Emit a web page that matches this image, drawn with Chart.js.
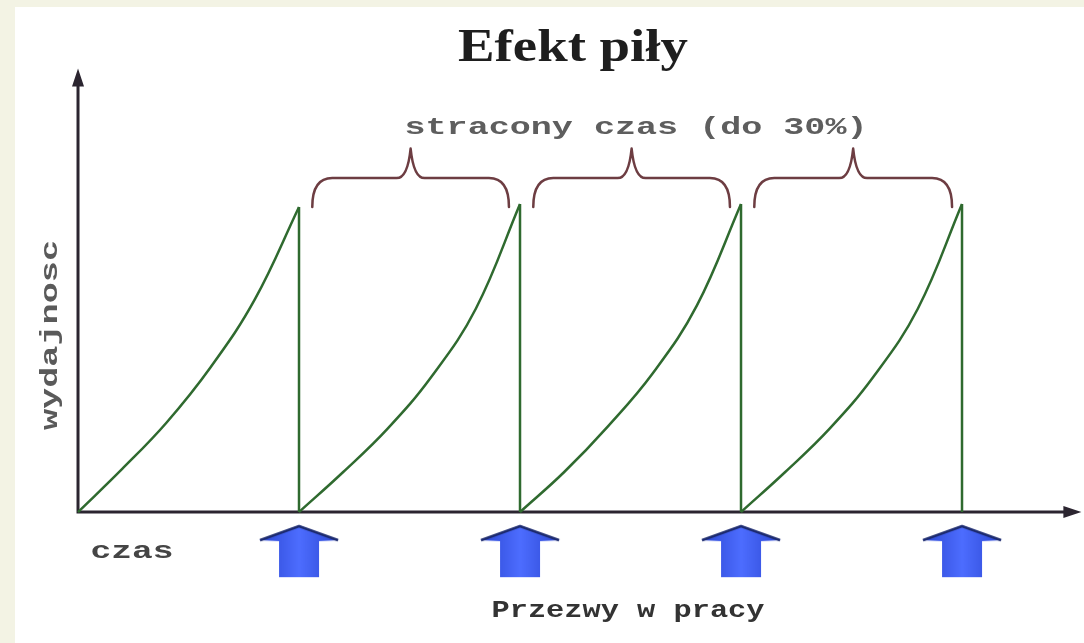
<!DOCTYPE html>
<html lang="pl">
<head>
<meta charset="utf-8">
<title>Efekt piły</title>
<script src="https://cdn.jsdelivr.net/npm/chart.js@4/dist/chart.umd.min.js"></script>
<style>
  html, body { margin: 0; padding: 0; background: #ffffff; }
  #wrap { width: 1084px; height: 643px; }
</style>
</head>
<body>
<div id="wrap"><canvas id="wykres" width="1084" height="643"></canvas></div>
<script>
// Czas (w jednostkach umownych) rozpoczęcia kolejnych bloków pracy
const poczatkiBlokow = [0, 10, 20, 30];
// Chwile w obrębie bloku, dla których odczytano wydajność
const chwileWBloku = [0, 2, 4, 6, 8, 10];
// Wydajność w kolejnych blokach pracy (100 = szczyt)
const wydajnosc1 = [0, 14, 29, 47, 69, 99];
const wydajnosc2 = [0, 13, 27, 44, 66, 100];
const wydajnosc3 = [0, 13, 28, 45, 67, 100];
const wydajnosc4 = [0, 13, 27, 44, 66, 100];
const wydajnosci = [wydajnosc1, wydajnosc2, wydajnosc3, wydajnosc4];
// Przerwy w pracy (moment spadku wydajności do zera)
const przerwy = [10, 20, 30, 40];
// Okresy straconego czasu (od - do)
const straconyCzas = [[10.6, 19.5], [20.6, 29.5], [30.6, 39.55]];

// Napisy
const tytul = 'Efekt piły';
const opisStrat = 'stracony czas (do 30%)';
const opisOsiY = 'wydajnosc';
const opisOsiX = 'czas';
const opisPrzerw = 'Przezwy w pracy';

const ZIELONY = '#2f6a2f';
const OS = '#2b2530';
const KLAMRA = '#6d3d42';

// Strzałka przerwy rysowana jako własny znacznik punktu
function strzalka() {
  const c = document.createElement('canvas');
  c.width = 84; c.height = 56;
  const g = c.getContext('2d');
  const grad = g.createLinearGradient(0, 0, 84, 0);
  grad.addColorStop(0, '#2a45d0');
  grad.addColorStop(0.5, '#4d6dff');
  grad.addColorStop(1, '#2a45d0');
  g.fillStyle = grad;
  g.beginPath();
  g.moveTo(42, 2);
  g.lineTo(82, 17);
  g.lineTo(62, 18);
  g.lineTo(62, 54);
  g.lineTo(22, 54);
  g.lineTo(22, 18);
  g.lineTo(2, 17);
  g.closePath();
  g.fill();
  g.strokeStyle = '#1c2a6e';
  g.lineWidth = 2.5;
  g.lineJoin = 'round';
  g.beginPath();
  g.moveTo(3, 17);
  g.lineTo(42, 3);
  g.lineTo(81, 17);
  g.stroke();
  return c;
}

const zestawy = [];
wydajnosci.forEach((w, i) => {
  zestawy.push({
    type: 'line',
    data: chwileWBloku.map((t, k) => ({ x: poczatkiBlokow[i] + t, y: w[k] })),
    borderColor: ZIELONY,
    borderWidth: 2.5,
    pointRadius: 0,
    tension: 0.4,
    fill: false
  });
});
// Pionowe spadki wydajności w chwili przerwy
const spadki = [];
przerwy.forEach((t, i) => {
  const w = wydajnosci[i];
  spadki.push({ x: t, y: w[w.length - 1] }, { x: t, y: 0 }, { x: t, y: null });
});
zestawy.push({
  type: 'line',
  data: spadki,
  borderColor: ZIELONY,
  borderWidth: 2.5,
  pointRadius: 0,
  tension: 0,
  spanGaps: false,
  fill: false
});
// Strzałki pod osią czasu
const POZIOM_STRZALEK = -12.7;
zestawy.push({
  type: 'scatter',
  data: przerwy.map(t => ({ x: t, y: POZIOM_STRZALEK })),
  pointStyle: strzalka(),
  pointRadius: 30,
  showLine: false
});

function napis(ctx, tekst, x, y, font, kolor, szer, kat) {
  ctx.save();
  ctx.font = font;
  ctx.fillStyle = kolor;
  ctx.textAlign = 'center';
  ctx.textBaseline = 'alphabetic';
  const w = ctx.measureText(tekst).width;
  ctx.translate(x, y);
  if (kat) ctx.rotate(kat);
  ctx.scale(szer / w, 1);
  ctx.fillText(tekst, 0, 0);
  ctx.restore();
}

const tlo = {
  id: 'tlo',
  beforeDraw(chart) {
    const ctx = chart.ctx;
    ctx.save();
    ctx.fillStyle = '#ffffff';
    ctx.fillRect(0, 0, chart.width, chart.height);
    ctx.fillStyle = '#f3f3e4';
    ctx.fillRect(0, 0, 15, chart.height);
    ctx.fillRect(0, 0, chart.width, 7);
    ctx.restore();
  }
};

const osie = {
  id: 'osie',
  beforeDatasetsDraw(chart) {
    const ctx = chart.ctx;
    const sx = chart.scales.x, sy = chart.scales.y;
    const x0 = sx.getPixelForValue(0), y0 = sy.getPixelForValue(0);
    const yTop = sy.getPixelForValue(144);
    const xEnd = sx.getPixelForValue(45.4);
    ctx.save();
    ctx.strokeStyle = OS;
    ctx.fillStyle = OS;
    ctx.lineWidth = 3;
    ctx.beginPath();
    ctx.moveTo(x0, y0 + 1.5);
    ctx.lineTo(x0, yTop + 14);
    ctx.moveTo(x0 - 1.5, y0);
    ctx.lineTo(xEnd - 14, y0);
    ctx.stroke();
    ctx.beginPath();
    ctx.moveTo(x0, yTop);
    ctx.lineTo(x0 + 6, yTop + 18);
    ctx.lineTo(x0 - 6, yTop + 18);
    ctx.closePath();
    ctx.fill();
    ctx.beginPath();
    ctx.moveTo(xEnd, y0);
    ctx.lineTo(xEnd - 18, y0 - 6);
    ctx.lineTo(xEnd - 18, y0 + 6);
    ctx.closePath();
    ctx.fill();
    ctx.restore();
  },
  afterDatasetsDraw(chart) {
    const ctx = chart.ctx;
    const sx = chart.scales.x, sy = chart.scales.y;
    // Klamry nad okresami straconego czasu
    const yKon = sy.getPixelForValue(99);
    const yPoz = sy.getPixelForValue(108.4);
    const yGrot = sy.getPixelForValue(118);
    ctx.save();
    ctx.strokeStyle = KLAMRA;
    ctx.lineWidth = 2.5;
    ctx.lineCap = 'round';
    ctx.lineJoin = 'round';
    straconyCzas.forEach(([a, b]) => {
      const xa = sx.getPixelForValue(a), xb = sx.getPixelForValue(b);
      const xc = (xa + xb) / 2;
      ctx.beginPath();
      ctx.moveTo(xa, yKon);
      ctx.quadraticCurveTo(xa, yPoz, xa + 20, yPoz);
      ctx.lineTo(xc - 14, yPoz);
      ctx.quadraticCurveTo(xc - 3, yPoz, xc, yGrot);
      ctx.quadraticCurveTo(xc + 3, yPoz, xc + 14, yPoz);
      ctx.lineTo(xb - 20, yPoz);
      ctx.quadraticCurveTo(xb, yPoz, xb, yKon);
      ctx.stroke();
    });
    ctx.restore();

    napis(ctx, tytul, 573, 61, 'bold 46px "Liberation Serif"', '#1e1e1e', 230);
    napis(ctx, opisStrat, 636, 134, 'bold 24px "Liberation Mono"', '#5e5e5e', 463);
    napis(ctx, opisOsiX, 132, 558, 'bold 24px "Liberation Mono"', '#454545', 83);
    napis(ctx, opisPrzerw, 628, 617, 'bold 24px "Liberation Mono"', '#333333', 273);
    napis(ctx, opisOsiY, 57, 335, 'bold 24px "Liberation Mono"', '#5a5a5a', 190, -Math.PI / 2);
  }
};

new Chart(document.getElementById('wykres'), {
  data: { datasets: zestawy },
  options: {
    responsive: false,
    devicePixelRatio: 1,
    animation: false,
    layout: { padding: 0, autoPadding: false },
    plugins: {
      legend: { display: false },
      title: { display: false },
      tooltip: { enabled: false }
    },
    scales: {
      x: { type: 'linear', min: -3.53, max: 45.52, display: false },
      y: { type: 'linear', min: -42.5, max: 166.2, display: false }
    }
  },
  plugins: [tlo, osie]
});
</script>
</body>
</html>
